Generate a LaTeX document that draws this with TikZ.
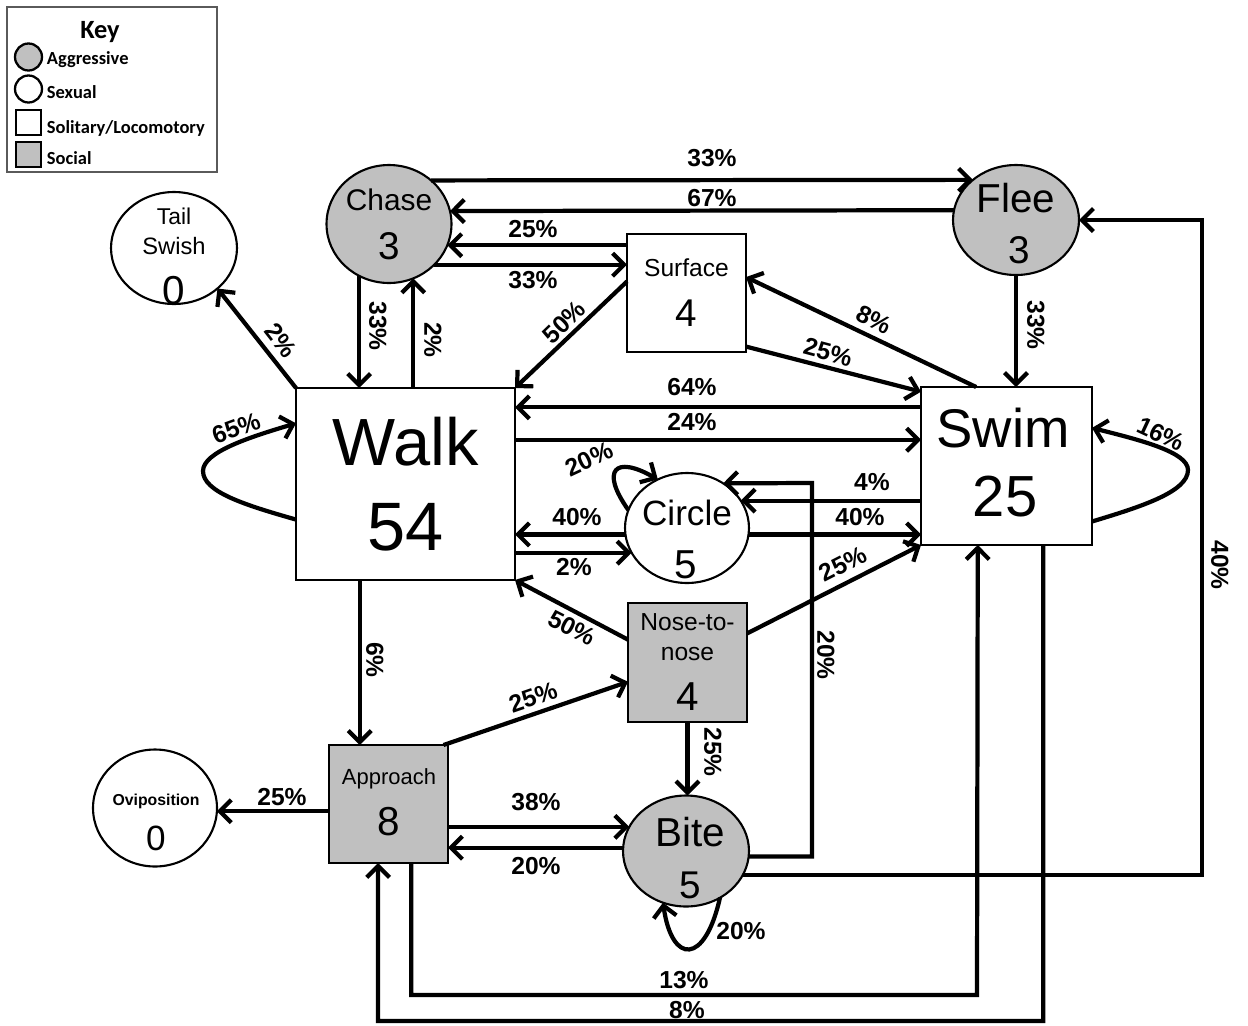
\documentclass[tikz,border=0pt]{standalone}
\usepackage{fontspec}
\setmainfont{Liberation Sans}
\newfontfamily\keyfont{Carlito}
\usetikzlibrary{arrows.meta,shapes.geometric}
\definecolor{nodegray}{RGB}{192,192,192}
\definecolor{keyborder}{RGB}{90,90,90}
\begin{document}
\begin{tikzpicture}[x=0.02cm,y=-0.02cm,
  every node/.style={inner sep=0pt,outer sep=0pt},
  ell/.style={ellipse,draw,line width=1.2pt},
  box/.style={rectangle,draw,line width=1.2pt},
  agg/.style={ell,fill=nodegray},
  sex/.style={ell,fill=white},
  sol/.style={box,fill=white},
  soc/.style={box,fill=nodegray},
  conn/.style={line width=2.4pt,-{Straight Barb[length=6.5pt,width=13pt]}},
  pct/.style={font=\fontsize{14}{16}\selectfont\bfseries,text depth=0pt},
  txt/.style={text depth=0pt},
  keytxt/.style={anchor=west,font=\keyfont\bfseries\fontsize{10.5}{12}\selectfont,text depth=0pt},
]
\useasboundingbox (0,0) rectangle (1248,1025);

% ---------- key ----------
\node[draw=keyborder,line width=0.6pt,minimum width=4.2cm,minimum height=3.3cm] (key) at (112,89.5) {};
\node[font=\keyfont\bfseries\fontsize{15}{17}\selectfont,text depth=0pt] (keyT) at (100,30) {Key};
\node[circle,draw,line width=1.3pt,fill=nodegray,minimum size=0.54cm] (kagg) at (28.5,57) {};
\node[keytxt] (kaggT) at (47,58) {Aggressive};
\node[circle,draw,line width=1.3pt,fill=white,minimum size=0.54cm] (ksex) at (28.5,89) {};
\node[keytxt] (ksexT) at (47,92) {Sexual};
\node[rectangle,draw,line width=1.3pt,fill=white,minimum size=0.5cm] (ksol) at (28.5,122.5) {};
\node[keytxt] (ksolT) at (47,127) {Solitary/Locomotory};
\node[rectangle,draw,line width=1.3pt,fill=nodegray,minimum size=0.5cm] (ksoc) at (28.5,154.5) {};
\node[keytxt] (ksocT) at (47,158) {Social};

% ---------- states ----------
\node[sex,minimum width=2.52cm,minimum height=2.24cm] (tail) at (174,248) {};
\node[agg,minimum width=2.5cm,minimum height=2.36cm] (chase) at (389,224) {};
\node[agg,minimum width=2.52cm,minimum height=2.2cm] (flee) at (1016,220) {};
\node[sol,minimum width=2.38cm,minimum height=2.36cm] (surface) at (686.5,293) {};
\node[sol,minimum width=4.38cm,minimum height=3.84cm] (walk) at (405.5,484) {};
\node[sol,minimum width=3.42cm,minimum height=3.16cm] (swim) at (1006.5,466) {};
\node[sex,minimum width=2.48cm,minimum height=2.2cm] (circ) at (687,528) {};
\node[soc,minimum width=2.38cm,minimum height=2.38cm] (nose) at (687.5,662.5) {};
\node[soc,minimum width=2.38cm,minimum height=2.36cm] (appr) at (388.5,804) {};
\node[agg,minimum width=2.52cm,minimum height=2.22cm] (bite) at (686,851) {};
\node[sex,minimum width=2.48cm,minimum height=2.34cm] (ovi) at (155,808) {};

% ---------- state texts ----------
\node[txt,font=\fontsize{13}{15}\selectfont] (tailA) at (174,216) {Tail};
\node[txt,font=\fontsize{13.5}{15}\selectfont] (tailB) at (174,246) {Swish};
\node[txt,font=\fontsize{23}{25}\selectfont] (tailC) at (174,290) {0};
\node[txt,font=\fontsize{17}{19}\selectfont] (chaseA) at (389,200) {Chase};
\node[txt,font=\fontsize{22}{24}\selectfont] (chaseB) at (389,246) {3};
\node[txt,font=\fontsize{23}{25}\selectfont] (fleeA) at (1016,198) {Flee};
\node[txt,font=\fontsize{22}{24}\selectfont] (fleeB) at (1019,250) {3};
\node[txt,font=\fontsize{14}{16}\selectfont] (surfA) at (686.5,268) {Surface};
\node[txt,font=\fontsize{22}{24}\selectfont] (surfB) at (686.5,313) {4};
\node[txt,font=\fontsize{38}{40}\selectfont] (walkA) at (405.5,441) {Walk};
\node[txt,font=\fontsize{39}{41}\selectfont] (walkB) at (405.5,527) {54};
\node[txt,font=\fontsize{31}{33}\selectfont] (swimA) at (1003,428) {Swim};
\node[txt,font=\fontsize{33}{35}\selectfont] (swimB) at (1005,496) {25};
\node[txt,font=\fontsize{20}{22}\selectfont] (circA) at (687,513) {Circle};
\node[txt,font=\fontsize{23}{25}\selectfont] (circB) at (686,565) {5};
\node[txt,font=\fontsize{14}{16}\selectfont] (noseA) at (687.5,622) {Nose-to-};
\node[txt,font=\fontsize{14}{16}\selectfont] (noseB) at (687.5,654) {nose};
\node[txt,font=\fontsize{23}{25}\selectfont] (noseC) at (687.5,697) {4};
\node[txt,font=\fontsize{12.5}{14}\selectfont] (apprA) at (389,777) {Approach};
\node[txt,font=\fontsize{23}{25}\selectfont] (apprB) at (389,821) {8};
\node[txt,font=\fontsize{23}{25}\selectfont] (biteA) at (690,832) {Bite};
\node[txt,font=\fontsize{22}{24}\selectfont] (biteB) at (690,885) {5};
\node[txt,font=\fontsize{9}{11}\selectfont\bfseries] (oviA) at (156,800) {Oviposition};
\node[txt,font=\fontsize{20}{22}\selectfont] (oviB) at (156,838) {0};

% ---------- connectors ----------
\draw[conn] (chase.46.6) -- (flee.137.2);
\draw[conn] (flee.171.8) -- (chase.12);
\draw[conn] (surface.west |- chase.-20.8) -- (chase.-20.8);
\draw[conn] (chase.-42.4) -- (surface.west |- chase.-42.4);
\draw[conn] (chase.-120.1) -- (walk.north -| chase.-120.1);
\draw[conn] (walk.north -| chase.-66.2) -- (chase.-66.2);
\draw[conn] (surface.169.5) -- (walk.north east);
\draw[conn] (swim.111.7) -- (surface.15.05);
\draw[conn] (surface.-42.2) -- (swim.139.5);
\draw[conn] (swim.west |- walk.35.8) -- (walk.35.8);
\draw[conn] (walk.22.8) -- (swim.west |- walk.22.8);
\draw[conn] (walk.198.2) .. controls (245,505) and (203,492) .. (203,471)
   .. controls (203,452) and (250,437) .. (walk.151.3);
\draw[conn] (walk.north west) -- (tail.-43);
\draw[conn] (circ.163) .. controls (600,470) and (615,455) .. (circ.121);
\draw[conn] (circ.186.5) -- (walk.east |- circ.186.5);
\draw[conn] (walk.east |- circ.204.4) -- (circ.204.4);
\draw[conn] (swim.west |- circ.27.7) -- (circ.27.7);
\draw[conn] (circ.-6.5) -- (swim.west |- circ.-6.5);
\coordinate (k20) at (812,483);
\draw[conn] (bite.-5.5) -| (k20) -- (circ.51.6);
\draw[conn] (nose.159.3) -- (walk.south east);
\draw[conn] (nose.26.4) -- (swim.south west);
\draw[conn] (nose.south) -- (nose.south |- bite.north);
\draw[conn] (walk.south -| appr.116.6) -- (appr.116.6);
\draw[conn] (appr.47.3) -- (nose.198.1);
\draw[conn] (appr.east |- bite.157.1) -- (bite.157.1);
\draw[conn] (bite.177.3) -- (appr.east |- bite.177.3);
\draw[conn] (bite.-54.5) .. controls (705,965) and (672,965) .. (bite.-114);
\draw[conn] (appr.west |- ovi.-3.7) -- (ovi.-3.7);
\coordinate (k13) at (977,995);
\draw[conn] (appr.-69.1) |- (k13) -- (swim.-110.5);
\coordinate (k8) at (378,1021);
\draw[conn] (swim.-65.8) |- (k8) -- (appr.-100.1);
\coordinate (k40) at (1202,220);
\draw[conn] (bite.-23.9) -| (k40) -- (flee.east);
\draw[conn] (flee.south) -- (flee.south |- swim.north);
\draw[conn] (swim.-33.2) .. controls (1140,507) and (1188,492) .. (1188,470)
   .. controls (1188,452) and (1140,440) .. (swim.24);

% ---------- percentages ----------
\node[pct] (p1) at (712,158) {33\%};
\node[pct] (p2) at (712,198) {67\%};
\node[pct] (p3) at (533,229) {25\%};
\node[pct] (p4) at (533,280) {33\%};
\node[pct,rotate=-90] (p5) at (378,326) {33\%};
\node[pct,rotate=-90] (p6) at (433,340) {2\%};
\node[pct,rotate=44] (p7) at (564,322) {50\%};
\node[pct,rotate=-26] (p8) at (874,320) {8\%};
\node[pct,rotate=-15] (p9) at (828,352) {25\%};
\node[pct] (p10) at (692,387) {64\%};
\node[pct] (p11) at (692,422) {24\%};
\node[pct,rotate=20] (p12) at (236,428) {65\%};
\node[pct,rotate=-52] (p13) at (281,340) {2\%};
\node[pct,rotate=25] (p14) at (589,459) {20\%};
\node[pct] (p15) at (577,517) {40\%};
\node[pct] (p16) at (574,567) {2\%};
\node[pct] (p17) at (872,482) {4\%};
\node[pct] (p18) at (860,517) {40\%};
\node[pct,rotate=-90] (p19) at (826,655) {20\%};
\node[pct,rotate=-27] (p20) at (572,628) {50\%};
\node[pct,rotate=27] (p21) at (843,564) {25\%};
\node[pct,rotate=-90] (p22) at (713,752) {25\%};
\node[pct,rotate=-90] (p23) at (375,660) {6\%};
\node[pct,rotate=19] (p24) at (533,697) {25\%};
\node[pct] (p25) at (536,802) {38\%};
\node[pct] (p26) at (536,866) {20\%};
\node[pct] (p27) at (741,931) {20\%};
\node[pct] (p28) at (282,797) {25\%};
\node[pct] (p29) at (684,980) {13\%};
\node[pct] (p30) at (687,1010) {8\%};
\node[pct,rotate=-90] (p31) at (1220,565) {40\%};
\node[pct,rotate=-90] (p32) at (1036,325) {33\%};
\node[pct,rotate=-25] (p33) at (1161,434) {16\%};
\end{tikzpicture}
\end{document}
